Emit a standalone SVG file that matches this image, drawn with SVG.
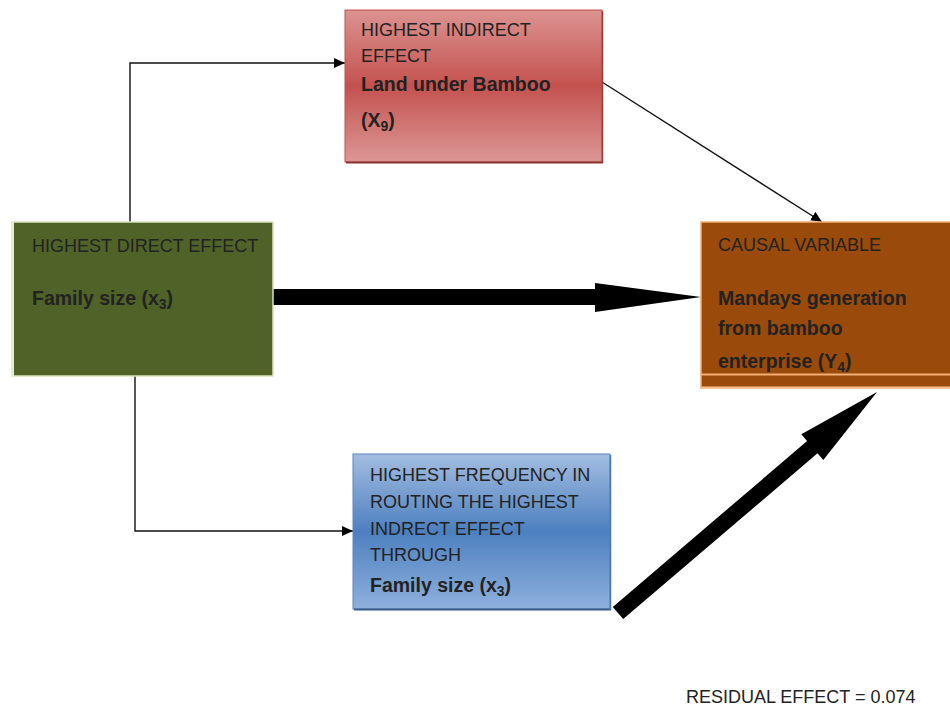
<svg xmlns="http://www.w3.org/2000/svg" width="950" height="709" viewBox="0 0 950 709">
  <style>
    .t { font-family: "Liberation Sans", Arial, sans-serif; font-size: 18px; fill: #222; }
    .b { font-weight: bold; font-size: 19.5px; }
    .thin { fill: none; stroke: #111; stroke-width: 1.4; marker-end: url(#tip); }
    .thick { fill: #000; }
  </style>
  <defs>
    <marker id="tip" markerUnits="userSpaceOnUse" markerWidth="12" markerHeight="10" refX="11" refY="5" orient="auto">
      <path d="M0,0 L11,5 L0,10 Z" fill="#000"/>
    </marker>
    <linearGradient id="redFill" x1="0" y1="0" x2="0" y2="1">
      <stop offset="0" stop-color="#dc9391"/>
      <stop offset="0.5" stop-color="#c4524f"/>
      <stop offset="1" stop-color="#dc9796"/>
    </linearGradient>
    <linearGradient id="blueFill" x1="0" y1="0" x2="0" y2="1">
      <stop offset="0" stop-color="#a3bde0"/>
      <stop offset="0.5" stop-color="#4d80c0"/>
      <stop offset="1" stop-color="#8eb0dc"/>
    </linearGradient>
  </defs>

  <!-- connectors -->
  <g id="connectors">
    <path class="thin" d="M130,222 V63 H345"/>
    <path class="thin" d="M135,376 V531 H353"/>
    <path class="thin" d="M602,82 L822,222"/>
    <polygon class="thick" points="272,289 595,289 595,283 701,297 595,312 595,305 272,305"/>
    <polygon class="thick" points="612.8,606.9 807.1,441.1 801.3,434.3 877,392 823.3,460.1 817.5,453.3 623.2,619.1"/>
  </g>

  <!-- indirect effect node -->
  <g id="node-indirect">
    <rect x="345" y="10" width="257" height="152" fill="url(#redFill)" stroke="#c0504d" stroke-width="1"/>
    <line x1="346" y1="162.5" x2="603" y2="162.5" stroke="#8c3331" stroke-width="2"/>
    <line x1="602.5" y1="11" x2="602.5" y2="163" stroke="#9a3a38" stroke-width="1.5"/>
    <text class="t" x="361" y="36">HIGHEST INDIRECT</text>
    <text class="t" x="361" y="62">EFFECT</text>
    <text class="t b" x="361" y="91">Land under Bamboo</text>
    <text class="t b" x="361" y="127">(X<tspan font-size="14" dy="4">9</tspan><tspan dy="-4">)</tspan></text>
  </g>

  <!-- direct effect node -->
  <g id="node-direct">
    <rect x="12" y="222" width="261" height="154" fill="#4f6228" stroke="#d7e4bd" stroke-width="1.5"/>
    <line x1="12.5" y1="222" x2="12.5" y2="376" stroke="#e4edcf" stroke-width="3"/>
    <text class="t" x="32" y="252">HIGHEST DIRECT EFFECT</text>
    <text class="t b" x="32" y="305">Family size (x<tspan font-size="14" dy="4">3</tspan><tspan dy="-4">)</tspan></text>
  </g>

  <!-- causal variable node -->
  <g id="node-causal">
    <rect x="701" y="222" width="252" height="166" fill="#9a4a0a" stroke="#f4ae73" stroke-width="1.5"/>
    <line x1="701" y1="374.5" x2="950" y2="374.5" stroke="#f4ae73" stroke-width="2"/>
    <line x1="701" y1="387.5" x2="950" y2="387.5" stroke="#f9c08f" stroke-width="2"/>
    <text class="t" x="718" y="251">CAUSAL VARIABLE</text>
    <text class="t b" x="718" y="305">Mandays generation</text>
    <text class="t b" x="718" y="335">from bamboo</text>
    <text class="t b" x="718" y="368">enterprise (Y<tspan font-size="14" dy="4">4</tspan><tspan dy="-4">)</tspan></text>
  </g>

  <!-- routing node -->
  <g id="node-routing">
    <rect x="353" y="454" width="257" height="155" fill="url(#blueFill)" stroke="#5b86c0" stroke-width="1"/>
    <line x1="354" y1="609.5" x2="611" y2="609.5" stroke="#385d8a" stroke-width="2"/>
    <line x1="610.5" y1="455" x2="610.5" y2="610" stroke="#4a74aa" stroke-width="1.5"/>
    <text class="t" x="370" y="481">HIGHEST FREQUENCY IN</text>
    <text class="t" x="370" y="508">ROUTING THE HIGHEST</text>
    <text class="t" x="370" y="535">INDRECT EFFECT</text>
    <text class="t" x="370" y="561">THROUGH</text>
    <text class="t b" x="370" y="592">Family size (x<tspan font-size="14" dy="4">3</tspan><tspan dy="-4">)</tspan></text>
  </g>

  <text id="residual" class="t" x="686" y="703">RESIDUAL EFFECT = 0.074</text>
</svg>
